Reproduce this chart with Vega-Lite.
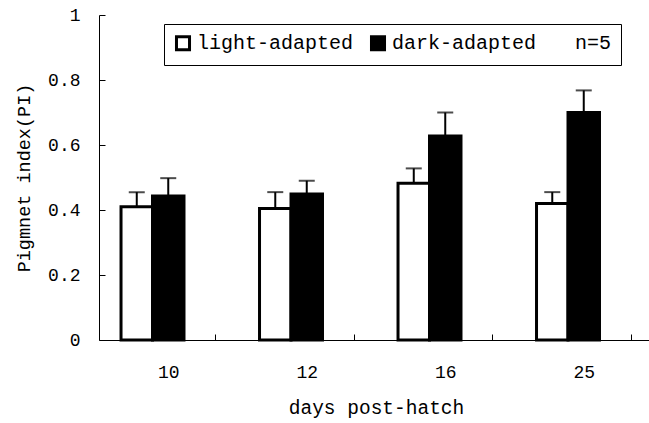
{
  "$schema": "https://vega.github.io/schema/vega-lite/v6.json",
  "autosize": {"type": "none"},
  "padding": {"left": 99, "top": 15, "right": 0, "bottom": 83},
  "width": 554,
  "height": 325,
  "background": "white",
  "config": {
    "view": {"stroke": null},
    "font": "Liberation Mono",
    "axis": {"grid": false, "domainColor": "black", "tickColor": "black", "labelColor": "black", "titleColor": "black", "labelFont": "Liberation Mono", "titleFont": "Liberation Mono", "titleFontWeight": "normal"}
  },
  "data": {
    "values": [
      {"day": "10", "group": "light-adapted", "value": 0.41, "upper": 0.455},
      {"day": "10", "group": "dark-adapted", "value": 0.443, "upper": 0.498},
      {"day": "12", "group": "light-adapted", "value": 0.405, "upper": 0.455},
      {"day": "12", "group": "dark-adapted", "value": 0.449, "upper": 0.49},
      {"day": "16", "group": "light-adapted", "value": 0.482, "upper": 0.528},
      {"day": "16", "group": "dark-adapted", "value": 0.628, "upper": 0.7},
      {"day": "25", "group": "light-adapted", "value": 0.42, "upper": 0.455},
      {"day": "25", "group": "dark-adapted", "value": 0.7, "upper": 0.768}
    ]
  },
  "encoding": {
    "x": {
      "field": "day", "type": "nominal", "sort": null,
      "scale": {"paddingInner": 0.318, "paddingOuter": 0.159},
      "axis": {"title": "days post-hatch", "labelAngle": 0, "tickBand": "extent", "tickSize": -6, "labelPadding": 29, "labelFontSize": 18, "titleFontSize": 19.5, "titlePadding": 17, "domainWidth": 1}
    },
    "xOffset": {"field": "group", "type": "nominal", "scale": {"domain": ["light-adapted", "dark-adapted", "n=5"], "paddingInner": 0, "paddingOuter": 0}}
  },
  "layer": [
    {
      "mark": {"type": "bar", "strokeWidth": 3},
      "encoding": {
        "y": {
          "field": "value", "type": "quantitative",
          "scale": {"domain": [0, 1]},
          "axis": {"title": "Pigmnet index(PI)", "values": [0, 0.2, 0.4, 0.6, 0.8, 1], "format": ".1~f", "tickSize": -6, "labelPadding": 25, "labelFontSize": 18, "titleFontSize": 18.5, "titlePadding": 14}
        },
        "fill": {
          "field": "group", "type": "nominal",
          "scale": {"domain": ["light-adapted", "dark-adapted", "n=5"], "range": ["white", "black", "transparent"]},
          "legend": {"title": null, "orient": "none", "legendX": 65, "legendY": 9, "direction": "horizontal", "strokeColor": "black", "fillColor": "white", "padding": 9, "symbolType": "square", "symbolSize": 170, "symbolStrokeWidth": 3, "labelFont": "Liberation Mono", "labelFontSize": 20, "labelColor": "black", "columnPadding": 11, "labelOffset": 4}
        },
        "stroke": {
          "field": "group", "type": "nominal",
          "scale": {"domain": ["light-adapted", "dark-adapted", "n=5"], "range": ["black", "black", "transparent"]},
          "legend": {"title": null, "orient": "none", "legendX": 65, "legendY": 9, "direction": "horizontal", "strokeColor": "black", "fillColor": "white", "padding": 9, "symbolType": "square", "symbolSize": 170, "symbolStrokeWidth": 3, "labelFont": "Liberation Mono", "labelFontSize": 20, "labelColor": "black", "columnPadding": 11, "labelOffset": 4}
        }
      }
    },
    {
      "mark": {"type": "rule", "color": "black", "strokeWidth": 2},
      "encoding": {
        "y": {"field": "value", "type": "quantitative"},
        "y2": {"field": "upper"}
      }
    },
    {
      "mark": {"type": "tick", "color": "black", "thickness": 2, "size": 16},
      "encoding": {
        "y": {"field": "upper", "type": "quantitative"}
      }
    }
  ]
}
